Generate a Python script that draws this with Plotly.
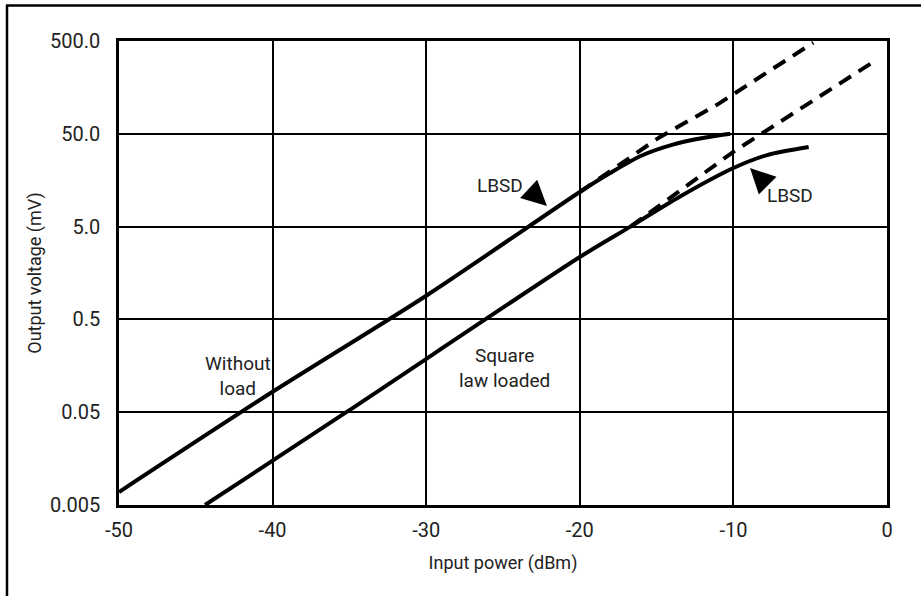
import plotly.graph_objects as go
import math

# ---- data ----
upper_solid_x = [-50, -40, -30, -20, -18, -16, -14, -12, -10.2]
upper_solid_y = [0.0069, 0.083, 0.9, 11.8, 19, 29, 38, 45, 50]

upper_dash_x = [-20, -14.8, -11.1, -4.8]
upper_dash_y = [11.8, 46, 102, 480]

lower_solid_x = [-44.4, -35.2, -20, -16.7, -13.5, -10, -7.8, -5.1]
lower_solid_y = [0.005, 0.05, 2.35, 5.0, 10.5, 21.4, 29.5, 36]

lower_dash_x = [-16.7, -10, -0.9]
lower_dash_y = [5.0, 32, 297]

x_ticks = [-50, -40, -30, -20, -10, 0]
x_tick_labels = ["-50", "-40", "-30", "-20", "-10", "0"]
y_ticks = [0.005, 0.05, 0.5, 5, 50, 500]
y_tick_labels = ["0.005", "0.05", "0.5", "5.0", "50.0", "500.0"]

FONT = "Roboto, sans-serif"
TXT = "#222222"

fig = go.Figure()
line_w = 4
dash = "14px,9px"
fig.add_trace(go.Scatter(x=upper_dash_x, y=upper_dash_y, mode="lines",
                         line=dict(color="black", width=line_w, dash=dash),
                         hoverinfo="skip"))
fig.add_trace(go.Scatter(x=lower_dash_x, y=lower_dash_y, mode="lines",
                         line=dict(color="black", width=line_w, dash=dash),
                         hoverinfo="skip"))
fig.add_trace(go.Scatter(x=upper_solid_x, y=upper_solid_y, mode="lines",
                         line=dict(color="black", width=line_w, shape="spline", smoothing=0.8),
                         hoverinfo="skip"))
fig.add_trace(go.Scatter(x=lower_solid_x, y=lower_solid_y, mode="lines",
                         line=dict(color="black", width=line_w, shape="spline", smoothing=0.8),
                         hoverinfo="skip"))

ann_font = dict(family=FONT, size=19, color=TXT)
annotations = [
    dict(x=-25.2, y=math.log10(14.0), text="LBSD", showarrow=False, font=ann_font),
    dict(x=-6.3, y=math.log10(10.7), text="LBSD", showarrow=False, font=ann_font),
    dict(x=-42.25, y=math.log10(0.123), text="Without<br>load", showarrow=False, font=ann_font),
    dict(x=-24.9, y=math.log10(0.15), text="Square<br>law loaded", showarrow=False, font=ann_font),
    dict(x=-22.14, y=math.log10(8.34), text="", showarrow=True, ax=-15, ay=-14,
         arrowhead=2, arrowsize=2.5, arrowwidth=2, arrowcolor="black"),
    dict(x=-8.92, y=math.log10(21.4), text="", showarrow=True, ax=17, ay=17,
         arrowhead=2, arrowsize=2.5, arrowwidth=2, arrowcolor="black"),
]

L, R, T, B = 119, 887, 41, 505
W, H = 921, 596
pw, ph = R - L, B - T
def px2paper_x(p):
    return (p - L) / pw
def py2paper_y(p):
    return (B - p) / ph

shapes = [
    dict(type="line", xref="paper", yref="paper",
         x0=px2paper_x(7), x1=px2paper_x(7), y0=py2paper_y(5), y1=py2paper_y(600),
         line=dict(color="black", width=2.5)),
    dict(type="line", xref="paper", yref="paper",
         x0=px2paper_x(6), x1=px2paper_x(925), y0=py2paper_y(5.5), y1=py2paper_y(5.5),
         line=dict(color="black", width=2.5)),
]

fig.update_layout(
    width=W, height=H,
    margin=dict(l=L, r=W - R, t=T, b=H - B, pad=0),
    paper_bgcolor="white", plot_bgcolor="white",
    showlegend=False,
    annotations=annotations,
    shapes=shapes,
    font=dict(family=FONT, color=TXT),
)
fig.update_xaxes(
    range=[-50, 0], tickvals=x_ticks, ticktext=x_tick_labels,
    showgrid=True, gridcolor="black", gridwidth=2,
    showline=True, linecolor="black", linewidth=2.5, mirror=True,
    ticks="", ticklabelstandoff=5, zeroline=False,
    tickfont=dict(family=FONT, size=20, color=TXT),
    title=dict(text="Input power (dBm)", font=dict(family=FONT, size=18, color=TXT), standoff=16),
)
fig.update_yaxes(
    type="log", range=[math.log10(0.005), math.log10(500)],
    tickvals=y_ticks, ticktext=y_tick_labels,
    showgrid=True, gridcolor="black", gridwidth=2,
    showline=True, linecolor="black", linewidth=2.5, mirror=True,
    ticks="", ticklabelstandoff=12, zeroline=False,
    tickfont=dict(family=FONT, size=20, color=TXT),
    title=dict(text="Output voltage (mV)", font=dict(family=FONT, size=18, color=TXT), standoff=4),
)

fig.write_html("out.html", config={"displayModeBar": False},
               post_script="document.body.style.margin='0px';")
